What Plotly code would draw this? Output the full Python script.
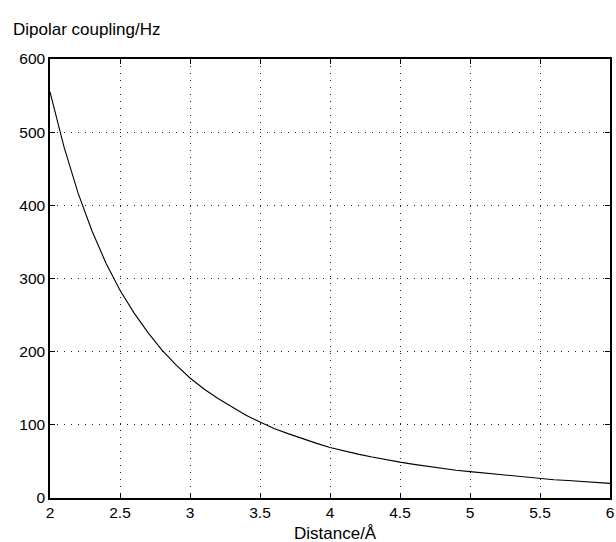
import plotly.graph_objects as go

distance = [2.0, 2.1, 2.2, 2.3, 2.4, 2.5, 2.6, 2.7, 2.8, 2.9,
            3.0, 3.1, 3.2, 3.3, 3.4, 3.5, 3.6, 3.7, 3.8, 3.9,
            4.0, 4.1, 4.2, 4.3, 4.4, 4.5, 4.6, 4.7, 4.8, 4.9,
            5.0, 5.1, 5.2, 5.3, 5.4, 5.5, 5.6, 5.7, 5.8, 5.9, 6.0]
coupling = [555, 480, 417, 365, 321, 284, 253, 226, 202, 182,
            164, 149, 136, 124, 113, 104, 95, 88, 81, 75,
            69, 64, 60, 56, 52, 49, 46, 43, 40, 38,
            36, 34, 32, 30, 28, 27, 25, 24, 23, 22, 20]

x_ticks = [2, 2.5, 3, 3.5, 4, 4.5, 5, 5.5, 6]
x_labels = ["2", "2.5", "3", "3.5", "4", "4.5", "5", "5.5", "6"]
y_ticks = [0, 100, 200, 300, 400, 500, 600]

fig = go.Figure()
fig.add_trace(go.Scatter(x=distance, y=coupling, mode="lines",
                         line=dict(color="black", width=1.1), showlegend=False))

tick_font = dict(family="Liberation Sans, Arial, sans-serif", size=15.5, color="black")
title_font = dict(family="Liberation Sans, Arial, sans-serif", size=17, color="black")
axis_common = dict(showline=True, linecolor="black", linewidth=1.5, mirror="ticks",
                   ticks="inside", ticklen=5, tickcolor="black", tickwidth=1.2,
                   showgrid=True, gridcolor="#222222", griddash="1px,6px", gridwidth=1.2,
                   zeroline=False, tickfont=tick_font, automargin=False,
                   ticklabeloverflow="allow")

fig.update_xaxes(range=[2, 6], tickvals=x_ticks, ticktext=x_labels, **axis_common)
fig.update_yaxes(range=[0, 600], tickvals=y_ticks, **axis_common)

fig.update_layout(
    width=616, height=542,
    margin=dict(l=50, r=6, t=59, b=44),
    plot_bgcolor="white", paper_bgcolor="white",
    font=tick_font,
    annotations=[
        dict(text="Dipolar coupling/Hz", xref="paper", yref="paper",
             x=-39/560, y=1 + 29/439, xanchor="left", yanchor="middle",
             showarrow=False, font=title_font),
        dict(text="Distance/Å", xref="paper", yref="paper",
             x=0.51, y=-35/439, xanchor="center", yanchor="middle",
             showarrow=False, font=title_font),
    ],
)

fig.write_html("out.html", config={"displayModeBar": False},
               post_script="document.body.style.margin='0';document.body.style.overflow='hidden';")
